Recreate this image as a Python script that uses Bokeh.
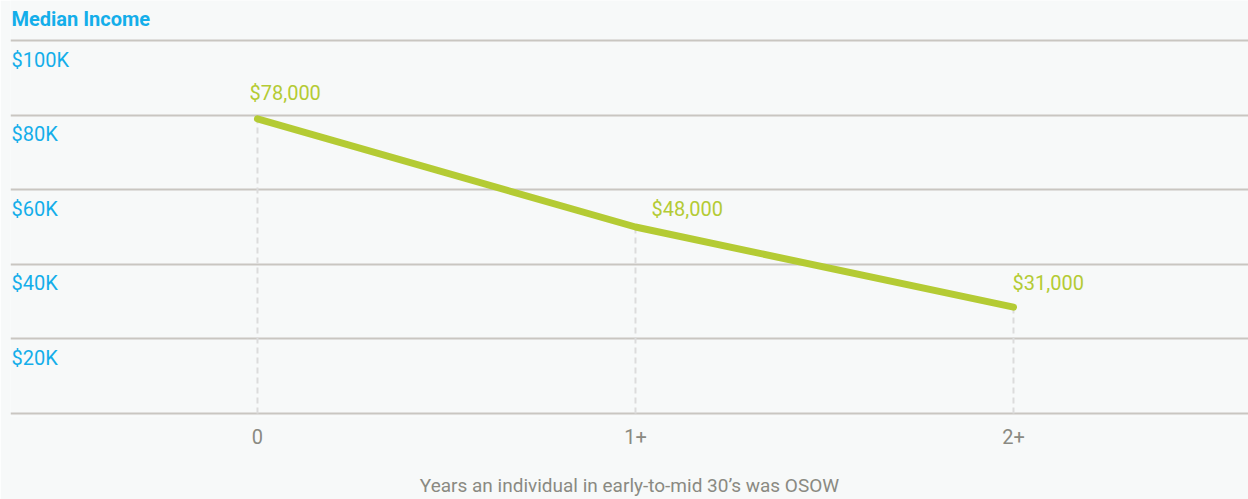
from bokeh.plotting import figure
from bokeh.models import Range1d, FixedTicker, ColumnDataSource
from bokeh.core.properties import value
from bokeh.embed import file_html
from bokeh.resources import INLINE

# ---- data ----
categories = ["0", "1+", "2+"]
x_pos = [0, 1, 2]
income_k = [79.0, 50.0, 28.5]          # plotted line values (thousands)
income_labels = ["$78,000", "$48,000", "$31,000"]
y_ticks = [0, 20, 40, 60, 80, 100]
y_tick_labels = ["", "$20K", "$40K", "$60K", "$80K", "$100K"]
title_text = "Median Income"
x_title = "Years an individual in early-to-mid 30\u2019s was OSOW"

# ---- style ----
BG = "#f7f9f9"
BLUE = "#14aeea"
GREEN = "#b4cb34"
GRID = "#c9c6c1"
GRAY = "#8a8a82"
FONT = "Roboto"
label_dx = [-8, 16, -1]
label_dy = [-26, -18, -24]

px_per_k = 3.73
x_start, x_end = -0.6534, 2.6217
y_top = 100 + 40 / px_per_k
y_bot = -3 / px_per_k

p = figure(width=1248, height=499, output_backend="svg", toolbar_location=None,
           x_range=Range1d(x_start, x_end), y_range=Range1d(y_bot, y_top),
           min_border_left=10, min_border_right=0, min_border_top=0,
           min_border_bottom=83, background_fill_color=BG,
           border_fill_color=BG, outline_line_color=None)

p.yaxis.visible = False
p.xgrid.visible = False
p.ygrid.ticker = FixedTicker(ticks=y_ticks)
p.ygrid.grid_line_color = GRID
p.ygrid.grid_line_width = 2

ax = p.xaxis[0]
ax.ticker = FixedTicker(ticks=x_pos)
ax.major_label_overrides = {x: c for x, c in zip(x_pos, categories)}
ax.axis_line_color = None
ax.major_tick_line_color = None
ax.minor_tick_line_color = None
ax.major_tick_out = 0
ax.major_label_standoff = 12
ax.major_label_text_font = FONT
ax.major_label_text_font_size = "20px"
ax.major_label_text_color = GRAY
ax.axis_label = x_title
ax.axis_label_text_font = FONT
ax.axis_label_text_font_size = "19px"
ax.axis_label_text_font_style = "normal"
ax.axis_label_text_color = GRAY
ax.axis_label_standoff = 27

# dashed drop lines
p.segment(x0=x_pos, y0=[0] * len(x_pos), x1=x_pos, y1=income_k,
          line_color="#dcdcdc", line_width=2, line_dash="6 4")

# main line
p.line(x_pos, income_k, line_color=GREEN, line_width=7,
       line_cap="round", line_join="round")

# value labels
src = ColumnDataSource(dict(x=x_pos, y=income_k, t=income_labels,
                            dx=label_dx, dy=label_dy))
p.text(x="x", y="y", text="t", x_offset="dx", y_offset="dy", source=src,
       text_font=value(FONT), text_font_size="20px", text_color=GREEN,
       text_align="left", text_baseline="middle")

# y tick labels (inside plot, below gridlines)
p.text(x=[x_start] * len(y_ticks), y=y_ticks, text=y_tick_labels,
       x_offset=1, y_offset=19, text_font=value(FONT), text_font_size="20px",
       text_color=BLUE, text_align="left", text_baseline="middle")

# title
p.text(x=[x_start], y=[y_top], text=[title_text], x_offset=1, y_offset=18,
       text_font=value(FONT), text_font_size="20px", text_font_style="bold",
       text_color=BLUE, text_align="left", text_baseline="middle")

open("out.html", "w").write(file_html(p, INLINE))
